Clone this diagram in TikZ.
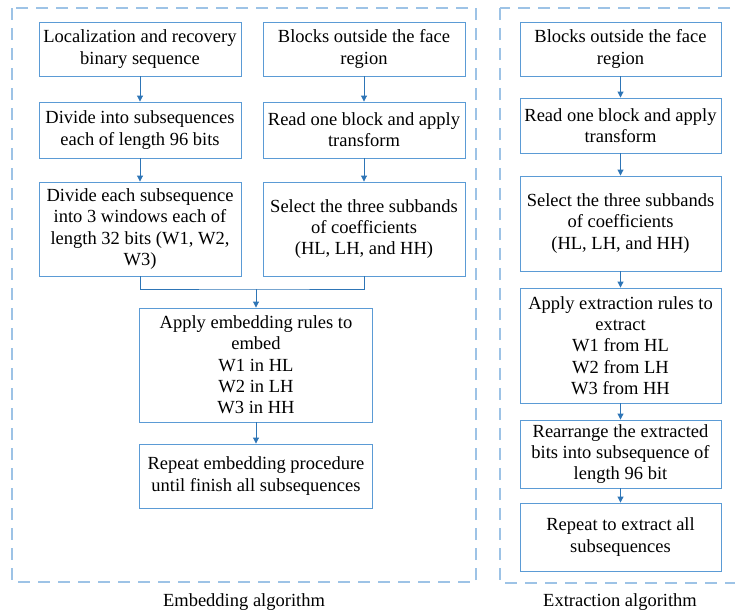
\documentclass[tikz,border=0pt]{standalone}
\usepackage{fontspec}
\setmainfont{Liberation Serif}
\usetikzlibrary{positioning,arrows.meta}

\definecolor{boxline}{RGB}{91,155,213}
\definecolor{arrowline}{RGB}{46,117,182}
\definecolor{frameline}{RGB}{157,195,230}

\begin{document}
\begin{tikzpicture}[x=1pt,y=-1pt,
    blk/.style={draw=boxline,line width=0.9pt,align=center,inner sep=1pt,
                font=\fontsize{18.5}{21.3}\selectfont,minimum width=202pt},
    flow/.style={draw=arrowline,line width=0.9pt,-{Triangle[length=6pt,width=6pt]}},
    frame/.style={draw=frameline,line width=1.3pt,dash pattern=on 12pt off 8pt},
    caption/.style={font=\fontsize{18.5}{21}\selectfont}]
    \useasboundingbox (0,0) rectangle (735,614);

    % dashed frames
    \draw[frame] (12,8) rectangle (476,582);
    \draw[frame] (500,8) rectangle (740,583);
    \node[caption] (embcap) at (244,602) {Embedding algorithm};
    \node[caption] (extcap) at (620,602) {Extraction algorithm};

    % embedding side
    \node[blk,minimum height=54pt] (seq) at (140,49) {Localization and recovery\\binary sequence};
    \node[blk,minimum height=56pt] (divide) at (140,130) {Divide into subsequences\\each of length 96 bits};
    \node[blk,minimum height=94pt] (windows) at (140,229) {Divide each subsequence\\into 3 windows each of\\length 32 bits (W1, W2,\\W3)};
    \node[blk,minimum height=54pt] (blocks) at (364,49) {Blocks outside the face\\region};
    \node[blk,minimum height=56pt] (read) at (364,130) {Read one block and apply\\transform};
    \node[blk,minimum height=94pt] (select) at (364,229) {Select the three subbands\\of coefficients\\(HL, LH, and HH)};
    \node[blk,minimum width=233pt,minimum height=114pt] (embed) at (256,365) {Apply embedding rules to\\embed\\W1 in HL\\W2 in LH\\W3 in HH};
    \node[blk,minimum width=233pt,minimum height=64pt] (repeat) at (256,476) {Repeat embedding procedure\\until finish all subsequences};
    \coordinate (join) at (embed.north |- 0,289);

    \draw[flow] (seq) -- (divide);
    \draw[flow] (divide) -- (windows);
    \draw[flow] (blocks) -- (read);
    \draw[flow] (read) -- (select);
    \draw[draw=arrowline,line width=0.9pt] (windows.south) |- (join) -| (select.south);
    \draw[flow] (join) -- (embed);
    \draw[flow] (embed) -- (repeat);

    % extraction side
    \node[blk,minimum width=201pt,minimum height=54pt] (xblocks) at (620.5,49) {Blocks outside the face\\region};
    \node[blk,minimum width=201pt,minimum height=55pt] (xread) at (620.5,125.5) {Read one block and apply\\transform};
    \node[blk,minimum width=201pt,minimum height=95pt] (xselect) at (620.5,223.5) {Select the three subbands\\of coefficients\\(HL, LH, and HH)};
    \node[blk,minimum width=201pt,minimum height=115pt] (xrules) at (620.5,345.5) {Apply extraction rules to\\extract\\W1 from HL\\W2 from LH\\W3 from HH};
    \node[blk,minimum width=201pt,minimum height=68pt] (rearr) at (620.5,454) {Rearrange the extracted\\bits into subsequence of\\length 96 bit};
    \node[blk,minimum width=201pt,minimum height=68pt] (xrepeat) at (620.5,537) {Repeat to extract all\\subsequences};

    \draw[flow] (xblocks) -- (xread);
    \draw[flow] (xread) -- (xselect);
    \draw[flow] (xselect) -- (xrules);
    \draw[flow] (xrules) -- (rearr);
    \draw[flow] (rearr) -- (xrepeat);
\end{tikzpicture}
\end{document}
